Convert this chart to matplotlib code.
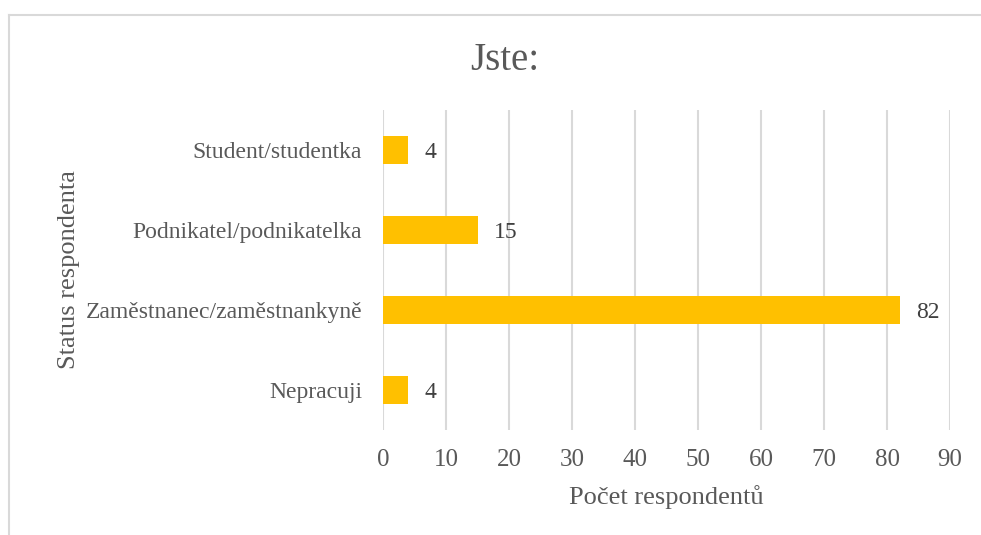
import matplotlib.pyplot as plt
from matplotlib.lines import Line2D

# Data
categories = ["Nepracuji", "Zaměstnanec/zaměstnankyně", "Podnikatel/podnikatelka", "Student/studentka"]
counts = [4, 82, 15, 4]
xticks = [0, 10, 20, 30, 40, 50, 60, 70, 80, 90]

plt.rcParams['font.family'] = ['Liberation Serif', 'DejaVu Serif']

fig = plt.figure(figsize=(9.81, 5.35), dpi=100)
ax = fig.add_axes([383/981, 1 - 430/535, (950 - 383)/981, 320/535])

y = range(len(categories))
ax.barh(y, counts, height=0.34, color="#FFC000", zorder=3)
for yi, v in zip(y, counts):
    ax.annotate(str(v), (v, yi), xytext=(12, -2), textcoords="offset points",
                va="center", ha="left", fontsize=17, color="#404040")

ax.set_xlim(0, 90)
ax.set_ylim(-0.5, len(categories) - 0.5)
ax.set_xticks(xticks)
ax.set_yticks(list(y))
ax.set_yticklabels(categories, fontsize=17)
ax.tick_params(axis="both", length=0, colors="#595959")
ax.tick_params(axis="x", pad=14, labelsize=18)
ax.tick_params(axis="y", pad=15)
ax.grid(axis="x", color="#d9d9d9", linewidth=1.5, zorder=0)
for s in ax.spines.values():
    s.set_visible(False)

ax.set_xlabel("Počet respondentů", fontsize=19, color="#595959", labelpad=10)
ax.set_ylabel("Status respondenta", fontsize=19, color="#595959", labelpad=4)
fig.text(505/981, 1 - 60/535, "Jste:", ha="center", va="center", fontsize=28, color="#595959")

# chart border (cropped on right and bottom)
fig.add_artist(Line2D([9/981, 1.0], [1 - 15/535] * 2, color="#d9d9d9", linewidth=1.5))
fig.add_artist(Line2D([9/981] * 2, [0, 1 - 15/535], color="#d9d9d9", linewidth=1.5))

fig.savefig("out.png", dpi=100)
